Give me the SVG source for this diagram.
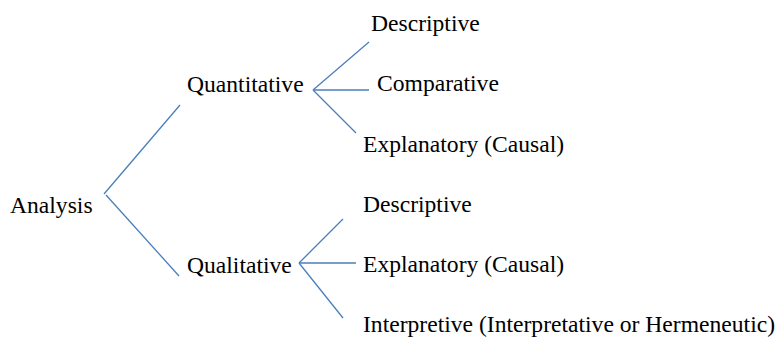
<svg xmlns="http://www.w3.org/2000/svg" width="776" height="338" viewBox="0 0 776 338">
<style>
.t text{font-family:'Liberation Serif','Times New Roman','DejaVu Serif',serif;font-size:23.6px;fill:#000}
.c line{stroke:#4a7ebb;stroke-width:1.3;fill:none}
</style>
<rect width="776" height="338" fill="#fff"/>
<g class="c" id="connectors">
<line x1="104" y1="194" x2="180" y2="105"/>
<line x1="106" y1="195" x2="179" y2="276"/>
<line x1="313" y1="90" x2="369" y2="42"/>
<line x1="313" y1="90" x2="369" y2="90"/>
<line x1="313" y1="90" x2="356" y2="133"/>
<line x1="299" y1="263" x2="343" y2="219"/>
<line x1="299" y1="263" x2="356" y2="263"/>
<line x1="299" y1="263" x2="343" y2="318"/>
</g>
<g class="t" font-family="Liberation Serif, serif">
<g id="analysis"><text x="10" y="213">Analysis</text></g>
<g id="quantitative"><text x="187" y="92">Quantitative</text></g>
<g id="qualitative"><text x="187" y="273">Qualitative</text></g>
<g id="quant-descriptive"><text x="371" y="31">Descriptive</text></g>
<g id="quant-comparative"><text x="377" y="91">Comparative</text></g>
<g id="quant-explanatory"><text x="363" y="152">Explanatory (Causal)</text></g>
<g id="qual-descriptive"><text x="363" y="212">Descriptive</text></g>
<g id="qual-explanatory"><text x="363" y="272">Explanatory (Causal)</text></g>
<g id="qual-interpretive"><text x="363" y="332">Interpretive (Interpretative or Hermeneutic)</text></g>
</g>
</svg>
